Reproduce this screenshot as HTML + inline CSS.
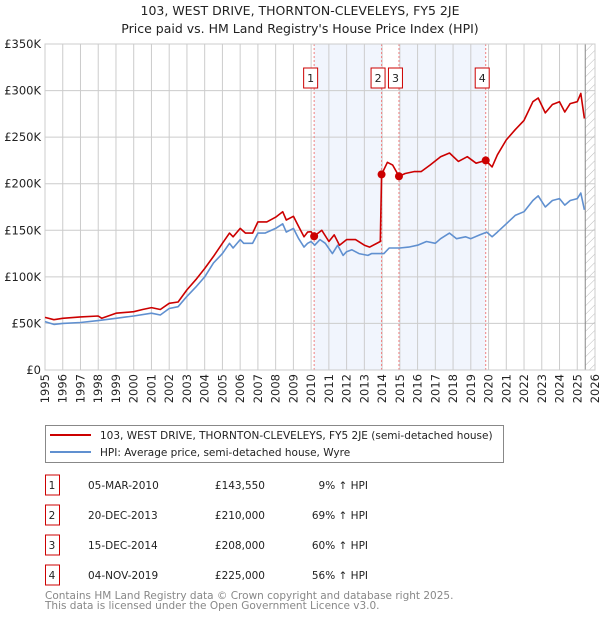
<!DOCTYPE html>
<html><head><meta charset="utf-8"><style>
body{margin:0;background:#fff;font-family:"DejaVu Sans","Liberation Sans",sans-serif;}
svg text{font-family:"DejaVu Sans","Liberation Sans",sans-serif;}
</style></head><body>
<svg id="c" width="600" height="620" xmlns="http://www.w3.org/2000/svg">
<defs><pattern id="hatch" width="6" height="6" patternUnits="userSpaceOnUse" patternTransform="rotate(45)"><line x1="0" y1="0" x2="0" y2="6" stroke="#bbb" stroke-width="1"/></pattern></defs>
<text x="300" y="15" text-anchor="middle" font-size="12.5" fill="#222">103, WEST DRIVE, THORNTON-CLEVELEYS, FY5 2JE</text>
<text x="300" y="33" text-anchor="middle" font-size="12.5" fill="#222">Price paid vs. HM Land Registry's House Price Index (HPI)</text>
<g id="plot"></g>
<g>
<rect x="45.5" y="425.5" width="458" height="37" fill="#fff" stroke="#888"/>
<line x1="50" y1="435" x2="91" y2="435" stroke="#cc0000" stroke-width="2"/>
<text x="100" y="439" font-size="10.5" fill="#222">103, WEST DRIVE, THORNTON-CLEVELEYS, FY5 2JE (semi-detached house)</text>
<line x1="50" y1="452" x2="91" y2="452" stroke="#6090d0" stroke-width="2"/>
<text x="100" y="456" font-size="10.5" fill="#222">HPI: Average price, semi-detached house, Wyre</text>
</g>
<g id="table" font-size="10.5" fill="#222"></g>
<text x="45" y="599" font-size="10.5" fill="#888">Contains HM Land Registry data © Crown copyright and database right 2025.</text>
<text x="45" y="609" font-size="10.5" fill="#888">This data is licensed under the Open Government Licence v3.0.</text>
</svg>
<script>
const hpiYears=[1995,1995.5,1996,1997,1998,1999,2000,2001,2001.5,2002,2002.5,2003,2003.5,2004,2004.5,2005,2005.4,2005.6,2006,2006.2,2006.7,2007,2007.4,2008,2008.4,2008.6,2009,2009.3,2009.6,2009.8,2010,2010.2,2010.5,2010.8,2011.2,2011.5,2011.8,2012,2012.3,2012.7,2013.2,2013.4,2013.8,2014.1,2014.4,2015,2015.5,2016,2016.5,2017,2017.3,2017.8,2018.2,2018.7,2019,2019.5,2019.9,2020.2,2020.5,2021,2021.5,2022,2022.5,2022.8,2023.2,2023.6,2024,2024.3,2024.6,2025,2025.2,2025.4];
const hpiValues=[52,49,50,51,53,55.5,58,61,59,66,68,79,89,100,115,125,136,131,140,136,136,147,147,152,157,148,152,141,132,136,138,134,140,136,125,134,123,127,129,125,123,125,125,125,131,131,132,134,138,136,141,147,141,143,141,145,148,143,148,157,166,170,182,187,175,182,184,177,182,184,190,172];
const priceYears=[1995,1995.5,1996,1997,1998,1998.2,1999,2000,2000.5,2001,2001.5,2002,2002.5,2003,2003.5,2004,2004.5,2005,2005.4,2005.6,2006,2006.3,2006.7,2007,2007.5,2008,2008.4,2008.6,2009,2009.3,2009.6,2009.8,2010,2010.17,2010.6,2011,2011.3,2011.6,2012,2012.5,2013,2013.3,2013.9,2013.97,2014.3,2014.6,2014.95,2015.3,2015.8,2016.2,2016.7,2017.3,2017.8,2018.3,2018.8,2019.3,2019.84,2020.2,2020.5,2021,2021.5,2022,2022.5,2022.8,2023.2,2023.6,2024,2024.3,2024.6,2025,2025.2,2025.4];
const priceValues=[56.5,54,55.5,57,58,55.5,61,62.6,65,67,65,71.6,73,86,97,109,122,136,147,143,152,147,147,159,159,164,170,161,165,154,143,148,148.5,143.5,150,138,145,134,140,140,134,132,138,210,223,220,208,211,213,213,220,229,233,224,229,222,225,218,231,247,258,268,288,292,276,285,288,277,286,288,297,270];
const saleLabels=["1","2","3","4"];
const saleYears=[2010.17,2013.97,2014.95,2019.84];
const salePrices=[143.55,210,208,225];
const saleDates=["05-MAR-2010","20-DEC-2013","15-DEC-2014","04-NOV-2019"];
const salePriceText=["£143,550","£210,000","£208,000","£225,000"];
const saleHpiText=["9% \u2191 HPI","69% \u2191 HPI","60% \u2191 HPI","56% \u2191 HPI"];
const yTicks=[0,50,100,150,200,250,300,350];
const yTickLabels=["£0","£50K","£100K","£150K","£200K","£250K","£300K","£350K"];
const xTicks=[1995,1996,1997,1998,1999,2000,2001,2002,2003,2004,2005,2006,2007,2008,2009,2010,2011,2012,2013,2014,2015,2016,2017,2018,2019,2020,2021,2022,2023,2024,2025,2026];

const NS="http://www.w3.org/2000/svg";
const L=45,R=595,T=44,B=370;
const X=y=>L+(y-1995)*(R-L)/31;
const Y=v=>B-v*(B-T)/350;
const g=document.getElementById('plot');
function mk(tag,at,parent){const e=document.createElementNS(NS,tag);for(const k in at)e.setAttribute(k,at[k]);(parent||g).appendChild(e);return e;}
for(let i=0;i<saleYears.length-1;i+=2){
 const r=mk('rect',{x:X(saleYears[i]),y:T,width:X(saleYears[i+1])-X(saleYears[i]),height:B-T,fill:'#eef2fc',opacity:0.8});
 
 
}
yTicks.forEach((v,i)=>{
 const l=mk('line',{x1:L,x2:R,y1:Y(v),y2:Y(v),stroke:'#ccc'});
 
 
 const t=mk('text',{x:L-4,y:Y(v)+4,'text-anchor':'end','font-size':11.5,fill:'#222'});
 t.textContent=yTickLabels[i];
 
 
});
xTicks.forEach(yr=>{
 const l=mk('line',{x1:X(yr),x2:X(yr),y1:T,y2:B,stroke:'#ccc'});
 
 
 const t=mk('text',{x:0,y:0,'text-anchor':'end','font-size':11.5,fill:'#222',transform:`translate(${X(yr)+4},374) rotate(-90)`});
 t.textContent=yr;
 
 
});
const h=mk('rect',{x:X(2025.45),y:T,width:R-X(2025.45),height:B-T,fill:'url(#hatch)'});


const hl=mk('line',{x1:X(2025.45),x2:X(2025.45),y1:T,y2:B,stroke:'#888'});


saleYears.forEach((yr,i)=>{
 const l=mk('line',{x1:X(yr),x2:X(yr),y1:T,y2:B,stroke:'#f08080','stroke-dasharray':'2,2'});
 
 
 const bx=mk('rect',{x:X(yr)-10.5,y:68,width:14,height:20,fill:'#fff',stroke:'#cc0000'});
 
 
 const t=mk('text',{x:X(yr)-3.5,y:82,'text-anchor':'middle','font-size':11,fill:'#222'});
 t.textContent=saleLabels[i];
 
 
});
const ax=mk('rect',{x:L,y:T,width:R-L,height:B-T,fill:'none',stroke:'#ccc'});


function line(xs,vs,col,name){
 const p=mk('path',{d:xs.map((x,i)=>(i?'L':'M')+X(x).toFixed(1)+','+Y(vs[i]).toFixed(1)).join(''),fill:'none',stroke:col,'stroke-width':1.6,'stroke-linejoin':'round'});
 
 
}
line(hpiYears,hpiValues,'#6090d0','hpi-line');
line(priceYears,priceValues,'#cc0000','property-price-line');
saleYears.forEach((yr,i)=>{
 const c=mk('circle',{cx:X(yr),cy:Y(salePrices[i]),r:4,fill:'#cc0000'});
 
 
});
const tb=document.getElementById('table');
saleLabels.forEach((lab,i)=>{
 const cy=483+i*30;
 const b=mk('rect',{x:45.5,y:cy-8,width:14,height:20,fill:'#fff',stroke:'#cc0000'},tb);
 
 
 const cells=[[52,lab,'middle'],[88,saleDates[i],'start'],[265,salePriceText[i],'end'],[368,saleHpiText[i],'end']];
 cells.forEach(([x,txt,a],j)=>{
  const t=mk('text',{x:x,y:cy+6,'text-anchor':a,'font-size':10.5,fill:'#222'},tb);
  t.textContent=txt;
  
  
 });
});
</script>
</body></html>
